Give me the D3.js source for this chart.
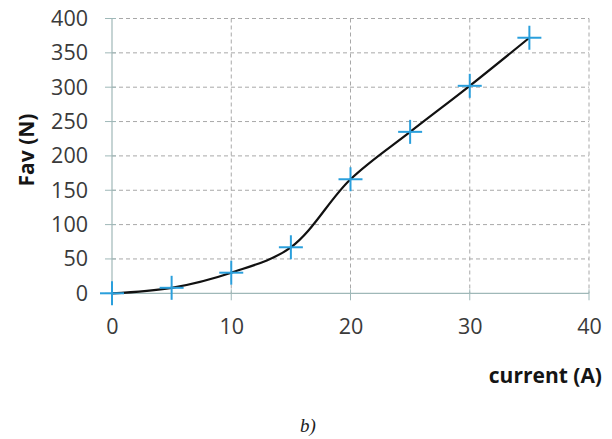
<!DOCTYPE html>
<html>
<head>
<meta charset="utf-8">
<script src="https://cdn.jsdelivr.net/npm/d3@7"></script>
<style>
  html, body { margin: 0; padding: 0; background: #fff; }
  svg { display: block; }
  .tick-label { font-family: "Open Sans", sans-serif; font-size: 21.5px; fill: #3a3a3a; }
  .axis-title { font-family: "Open Sans", sans-serif; font-size: 21px; font-weight: bold; fill: #151515; }
  .caption { font-family: "Liberation Serif", serif; font-size: 19px; font-style: italic; fill: #222; }
</style>
</head>
<body>
<svg id="chart" width="612" height="439"></svg>
<script>
// Measured force versus coil current
const current = [0, 5, 10, 15, 20, 25, 30, 35];
const force = [0, 8, 30, 67, 166, 235, 302, 372];
const xTicks = [0, 10, 20, 30, 40];
const yTicks = [0, 50, 100, 150, 200, 250, 300, 350, 400];

const svg = d3.select("#chart");
const margin = { left: 112, right: 23, top: 18.5, bottom: 145.7 };
const W = 612, H = 439;

const x = d3.scaleLinear().domain([0, 40]).range([margin.left, W - margin.right]);
const y = d3.scaleLinear().domain([0, 400]).range([H - margin.bottom, margin.top]);

const gridColor = "#a8a8a8";
const axisColor = "#9fb8b8";

// dashed horizontal gridlines
svg.append("g").selectAll("line").data(yTicks.filter(d => d > 0)).join("line")
  .attr("x1", x(0)).attr("x2", x(40))
  .attr("y1", d => y(d)).attr("y2", d => y(d))
  .attr("stroke", gridColor).attr("stroke-width", 1)
  .attr("stroke-dasharray", "4,3");

// dashed vertical gridlines
svg.append("g").selectAll("line").data(xTicks.filter(d => d > 0)).join("line")
  .attr("x1", d => x(d)).attr("x2", d => x(d))
  .attr("y1", y(400)).attr("y2", y(0))
  .attr("stroke", gridColor).attr("stroke-width", 1)
  .attr("stroke-dasharray", "4,3");

// y axis (line, tick marks, labels)
const yAxis = d3.axisLeft(y).tickValues(yTicks).tickSize(0).tickPadding(24);
const gy = svg.append("g").attr("transform", `translate(${x(0)},0)`).call(yAxis);
gy.select(".domain").remove();
gy.selectAll("text").attr("class", "tick-label").attr("fill", null);
svg.append("g").selectAll("line").data(yTicks).join("line")
  .attr("x1", x(0) - 7).attr("x2", x(0) + 4)
  .attr("y1", d => y(d)).attr("y2", d => y(d))
  .attr("stroke", axisColor).attr("stroke-width", 1);
svg.append("line")
  .attr("x1", x(0)).attr("x2", x(0)).attr("y1", y(400)).attr("y2", y(0))
  .attr("stroke", axisColor).attr("stroke-width", 1.2);

// x axis (line, tick marks, labels)
const xAxis = d3.axisBottom(x).tickValues(xTicks).tickSize(0).tickPadding(25);
const gx = svg.append("g").attr("transform", `translate(0,${y(0)})`).call(xAxis);
gx.select(".domain").remove();
gx.selectAll("text").attr("class", "tick-label").attr("fill", null);
svg.append("g").selectAll("line").data(xTicks).join("line")
  .attr("x1", d => x(d)).attr("x2", d => x(d))
  .attr("y1", y(0) - 4).attr("y2", y(0) + 7)
  .attr("stroke", axisColor).attr("stroke-width", 1);
svg.append("line")
  .attr("x1", x(0)).attr("x2", x(40)).attr("y1", y(0)).attr("y2", y(0))
  .attr("stroke", axisColor).attr("stroke-width", 1.2);

// smoothed curve through the measurements
const line = d3.line()
  .x((d, i) => x(current[i]))
  .y(d => y(d))
  .curve(d3.curveCatmullRom.alpha(0.5));
svg.append("path").datum(force)
  .attr("d", line)
  .attr("fill", "none")
  .attr("stroke", "#111")
  .attr("stroke-width", 2.2);

// plus-shaped markers
const arm = 12;
const markers = svg.append("g").selectAll("g").data(force).join("g")
  .attr("transform", (d, i) => `translate(${x(current[i])},${y(d)})`)
  .attr("stroke", "#2a9fdc").attr("stroke-width", 2);
markers.append("line").attr("x1", -arm).attr("x2", arm).attr("y1", 0).attr("y2", 0);
markers.append("line").attr("x1", 0).attr("x2", 0).attr("y1", -arm).attr("y2", arm);

// axis titles
svg.append("text").attr("class", "axis-title")
  .attr("transform", "translate(34,150) rotate(-90)")
  .attr("text-anchor", "middle")
  .text("Fav (N)");
svg.append("text").attr("class", "axis-title")
  .attr("x", 602).attr("y", 383)
  .attr("text-anchor", "end")
  .text("current (A)");

// panel caption
svg.append("text").attr("class", "caption")
  .attr("x", 308).attr("y", 432)
  .attr("text-anchor", "middle")
  .text("b)");
</script>
</body>
</html>
